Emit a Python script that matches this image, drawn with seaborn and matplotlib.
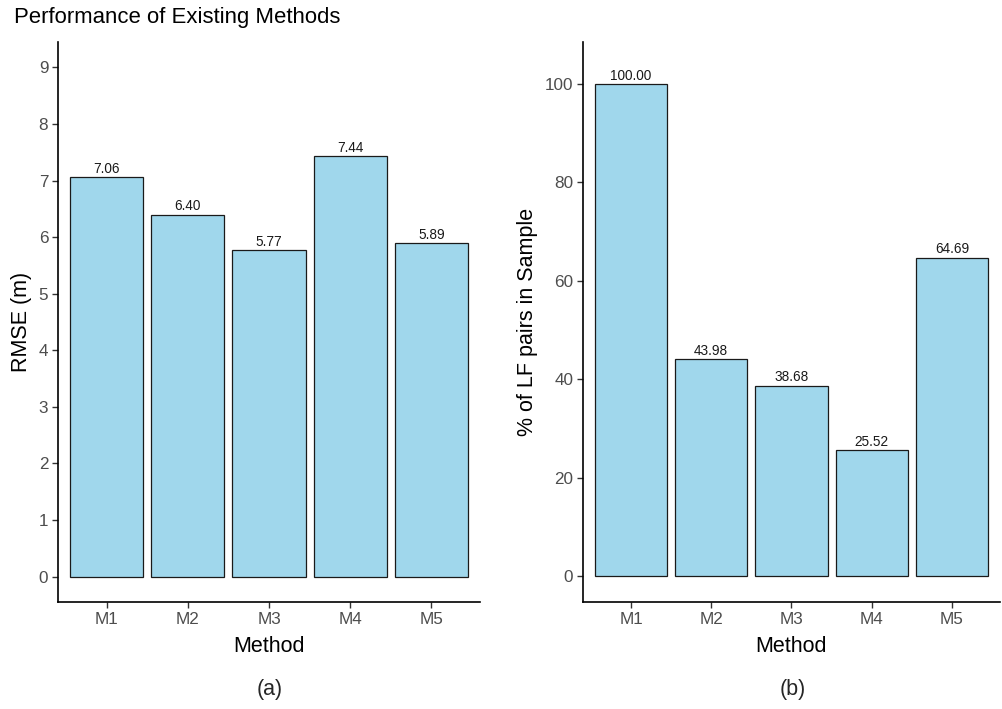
import matplotlib
matplotlib.use("Agg")
import matplotlib.pyplot as plt
import seaborn as sns
import pandas as pd

methods = ["M1", "M2", "M3", "M4", "M5"]
rmse = [7.06, 6.40, 5.77, 7.44, 5.89]
lf_pct = [100.00, 43.98, 38.68, 25.52, 64.69]

sns.set_theme(style="ticks")
plt.rcParams["font.family"] = ["Liberation Sans", "DejaVu Sans"]

W, H = 1003, 709
fig = plt.figure(figsize=(W / 100, H / 100), dpi=100, facecolor="white")

def px_axes(x0, y0, x1, y1):
    return fig.add_axes([x0 / W, 1 - y1 / H, (x1 - x0) / W, (y1 - y0) / H])

ax1 = px_axes(58, 42, 480, 602)
ax2 = px_axes(583, 42, 1000, 602)

fill = "#A0D7EC"
df = pd.DataFrame({"Method": methods, "RMSE": rmse, "LF": lf_pct})

def style(ax, ylab, ylim, ticks):
    ax.set_facecolor("white")
    for s in ["top", "right"]:
        ax.spines[s].set_visible(False)
    for s in ["left", "bottom"]:
        ax.spines[s].set_color("black")
        ax.spines[s].set_linewidth(1.2)
    ax.set_ylim(*ylim)
    ax.set_xlim(-0.6, 4.6)
    ax.set_yticks(ticks)
    ax.tick_params(axis="both", which="both", direction="out", length=4, width=1,
                   color="#333333", labelcolor="#4D4D4D", labelsize=12.3,
                   top=False, right=False, pad=3)
    ax.grid(False)
    ax.set_xlabel("Method", fontsize=15.5, color="black", labelpad=7)
    ax.set_ylabel(ylab, fontsize=15.5, color="black", labelpad=5)

sns.barplot(data=df, x="Method", y="RMSE", ax=ax1, color=fill, saturation=1,
            width=0.9, edgecolor="#1a1a1a", linewidth=0.9)
style(ax1, "RMSE (m)", (-0.45, 9.45), range(0, 10))
ax1.bar_label(ax1.containers[0], fmt="%.2f", padding=0.8, fontsize=9.8, color="#1a1a1a")

sns.barplot(data=df, x="Method", y="LF", ax=ax2, color=fill, saturation=1,
            width=0.9, edgecolor="#1a1a1a", linewidth=0.9)
style(ax2, "% of LF pairs in Sample", (-5.3, 108.5), range(0, 101, 20))
ax2.bar_label(ax2.containers[0], fmt="%.2f", padding=0.8, fontsize=9.8, color="#1a1a1a")

fig.text(14 / W, 1 - 18 / H, "Performance of Existing Methods", fontsize=15.9,
         ha="left", va="center", color="black")
fig.text(270 / W, 1 - 690 / H, "(a)", fontsize=15.5, ha="center", va="center")
fig.text(793 / W, 1 - 690 / H, "(b)", fontsize=15.5, ha="center", va="center")

fig.savefig("out.png", dpi=100, facecolor="white")
